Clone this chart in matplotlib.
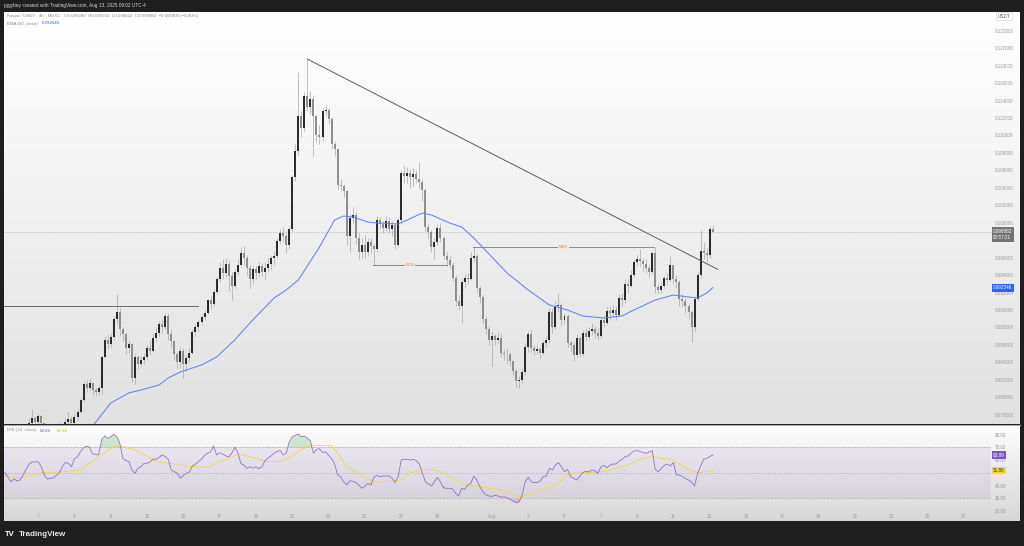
"""Kaspa / USDT 4h chart with EMA 50 and RSI 14, TradingView light style."""

import numpy as np
import pandas as pd
import matplotlib
matplotlib.use("Agg")
import matplotlib.pyplot as plt
from matplotlib import transforms
from matplotlib.colors import LinearSegmentedColormap
from matplotlib.lines import Line2D
from matplotlib.ticker import FormatStrFormatter

# ---- data ---------------------------------------------------------------
START = "2025-07-05 04:00"          # first 4h candle
FIRST_OPEN = 0.0765

closes = [
    0.0764, 0.0761, 0.0759, 0.0762, 0.0766, 0.0763, 0.0760, 0.0765, 0.0771, 0.0776,
    0.0772, 0.0778, 0.0770, 0.0765, 0.0760, 0.0757, 0.0761, 0.0764, 0.0768, 0.0766,
    0.0772, 0.0775, 0.0771, 0.0777, 0.0783, 0.0797, 0.0815, 0.0811, 0.0816, 0.0808,
    0.0806, 0.0810, 0.0846, 0.0866, 0.0861, 0.0869, 0.0890, 0.0898, 0.0878, 0.0872,
    0.0856, 0.0861, 0.0822, 0.0846, 0.0838, 0.0843, 0.0846, 0.0856, 0.0853, 0.0868,
    0.0874, 0.0884, 0.0880, 0.0893, 0.0873, 0.0864, 0.0849, 0.0840, 0.0853, 0.0838,
    0.0845, 0.0851, 0.0875, 0.0880, 0.0886, 0.0892, 0.0897, 0.0911, 0.0907, 0.0921,
    0.0935, 0.0948, 0.0942, 0.0953, 0.0939, 0.0928, 0.0944, 0.0952, 0.0965, 0.0960,
    0.0948, 0.0936, 0.0947, 0.0942, 0.0950, 0.0944, 0.0948, 0.0953, 0.0959, 0.0962,
    0.0979, 0.0988, 0.0985, 0.0975, 0.0993, 0.1052, 0.1082, 0.1122, 0.1109, 0.1145,
    0.1133, 0.1142, 0.1122, 0.1100, 0.1098, 0.1128, 0.1129, 0.1119, 0.1090, 0.1084,
    0.1043, 0.1042, 0.1036, 0.0985, 0.1005, 0.1009, 0.0982, 0.0966, 0.0975, 0.0966,
    0.0978, 0.0973, 0.0970, 0.1003, 0.0998, 0.0994, 0.1002, 0.0993, 0.0997, 0.0975,
    0.1003, 0.1057, 0.1054, 0.1057, 0.1052, 0.1056, 0.1050, 0.1047, 0.1037, 0.0995,
    0.0989, 0.0972, 0.0978, 0.0994, 0.0983, 0.0962, 0.0957, 0.0952, 0.0937, 0.0910,
    0.0905, 0.0932, 0.0937, 0.0935, 0.0960, 0.0962, 0.0925, 0.0915, 0.0890, 0.0878,
    0.0865, 0.0870, 0.0866, 0.0868, 0.0851, 0.0849, 0.0850, 0.0841, 0.0830, 0.0818,
    0.0820, 0.0829, 0.0858, 0.0873, 0.0856, 0.0853, 0.0855, 0.0851, 0.0862, 0.0866,
    0.0898, 0.0880, 0.0905, 0.0906, 0.0888, 0.0893, 0.0862, 0.0860, 0.0848, 0.0868,
    0.0850, 0.0874, 0.0869, 0.0876, 0.0878, 0.0874, 0.0870, 0.0888, 0.0885, 0.0899,
    0.0896, 0.0900, 0.0894, 0.0914, 0.0911, 0.0930, 0.0927, 0.0940, 0.0955, 0.0958,
    0.0956, 0.0953, 0.0948, 0.0944, 0.0965, 0.0926, 0.0923, 0.0928, 0.0937, 0.0934,
    0.0951, 0.0935, 0.0932, 0.0912, 0.0910, 0.0905, 0.0898, 0.0880, 0.0913, 0.0940,
    0.0968, 0.0965, 0.0963, 0.09928, 0.098882,
]

highs = [
    0.0767, 0.0765, 0.0763, 0.0765, 0.0768, 0.0768, 0.0765, 0.0767, 0.0776, 0.0787,
    0.0779, 0.0782, 0.0780, 0.0771, 0.0766, 0.0762, 0.0764, 0.0767, 0.0772, 0.0771,
    0.0776, 0.0783, 0.0778, 0.0781, 0.0786, 0.0799, 0.0818, 0.0820, 0.0822, 0.0817,
    0.0811, 0.0813, 0.0848, 0.0870, 0.0872, 0.0874, 0.0893, 0.0918, 0.0902, 0.0881,
    0.0874, 0.0866, 0.0862, 0.0850, 0.0848, 0.0847, 0.0851, 0.0860, 0.0866, 0.0872,
    0.0880, 0.0887, 0.0890, 0.0896, 0.0897, 0.0878, 0.0866, 0.0852, 0.0857, 0.0856,
    0.0848, 0.0856, 0.0878, 0.0884, 0.0889, 0.0895, 0.0900, 0.0913, 0.0916, 0.0924,
    0.0938, 0.0955, 0.0958, 0.0960, 0.0957, 0.0943, 0.0947, 0.0958, 0.0972, 0.0973,
    0.0963, 0.0951, 0.0950, 0.0952, 0.0956, 0.0954, 0.0955, 0.0960, 0.0963, 0.0967,
    0.0983, 0.0993, 0.0995, 0.0990, 0.0996, 0.1055, 0.1090, 0.1173, 0.1128, 0.1150,
    0.1188, 0.1151, 0.1146, 0.1124, 0.1112, 0.1132, 0.1135, 0.1131, 0.1121, 0.1094,
    0.1085, 0.1050, 0.1044, 0.1038, 0.1010, 0.1018, 0.1012, 0.0988, 0.0982, 0.0986,
    0.0983, 0.0982, 0.0976, 0.1008, 0.1006, 0.1002, 0.1008, 0.1006, 0.1002, 0.1000,
    0.1006, 0.1060, 0.1066, 0.1064, 0.1062, 0.1063, 0.1060, 0.1069, 0.1050, 0.1040,
    0.1000, 0.0992, 0.0982, 0.0998, 0.1000, 0.0985, 0.0966, 0.0962, 0.0955, 0.0940,
    0.0917, 0.0935, 0.0941, 0.0942, 0.0966, 0.0972, 0.0964, 0.0928, 0.0917, 0.0893,
    0.0882, 0.0876, 0.0873, 0.0875, 0.0872, 0.0855, 0.0856, 0.0852, 0.0843, 0.0832,
    0.0824, 0.0832, 0.0862, 0.0876, 0.0877, 0.0860, 0.0860, 0.0858, 0.0865, 0.0870,
    0.0902, 0.0902, 0.0910, 0.0919, 0.0908, 0.0897, 0.0895, 0.0866, 0.0863, 0.0872,
    0.0870, 0.0877, 0.0879, 0.0881, 0.0885, 0.0882, 0.0879, 0.0891, 0.0894, 0.0903,
    0.0905, 0.0906, 0.0904, 0.0918, 0.0920, 0.0935, 0.0935, 0.0946, 0.0958, 0.0963,
    0.0970, 0.0960, 0.0958, 0.0952, 0.0968, 0.0972, 0.0930, 0.0932, 0.0940, 0.0942,
    0.0962, 0.0952, 0.0940, 0.0934, 0.0918, 0.0914, 0.0908, 0.0900, 0.0916, 0.0944,
    0.0992, 0.0978, 0.0972, 0.0996, 0.099702,
]

lows = [
    0.0758, 0.0757, 0.0755, 0.0757, 0.0760, 0.0760, 0.0757, 0.0758, 0.0762, 0.0768,
    0.0766, 0.0770, 0.0764, 0.0762, 0.0756, 0.0753, 0.0755, 0.0759, 0.0760, 0.0760,
    0.0764, 0.0768, 0.0766, 0.0768, 0.0774, 0.0782, 0.0795, 0.0806, 0.0808, 0.0803,
    0.0801, 0.0802, 0.0804, 0.0845, 0.0855, 0.0857, 0.0866, 0.0884, 0.0870, 0.0864,
    0.0850, 0.0851, 0.0817, 0.0815, 0.0832, 0.0835, 0.0838, 0.0843, 0.0848, 0.0852,
    0.0864, 0.0870, 0.0874, 0.0878, 0.0866, 0.0858, 0.0843, 0.0833, 0.0834, 0.0822,
    0.0830, 0.0840, 0.0849, 0.0870, 0.0876, 0.0883, 0.0889, 0.0895, 0.0901, 0.0905,
    0.0918, 0.0932, 0.0936, 0.0938, 0.0922, 0.0911, 0.0925, 0.0940, 0.0950, 0.0952,
    0.0940, 0.0925, 0.0930, 0.0935, 0.0938, 0.0939, 0.0935, 0.0944, 0.0946, 0.0952,
    0.0958, 0.0976, 0.0978, 0.0965, 0.0970, 0.0990, 0.1048, 0.1078, 0.1098, 0.1105,
    0.1128, 0.1125, 0.1076, 0.1092, 0.1090, 0.1094, 0.1122, 0.1113, 0.1085, 0.1076,
    0.1038, 0.1036, 0.1030, 0.0975, 0.0966, 0.1000, 0.0976, 0.0958, 0.0960, 0.0960,
    0.0962, 0.0965, 0.0951, 0.0966, 0.0993, 0.0988, 0.0990, 0.0988, 0.0985, 0.0970,
    0.0972, 0.0998, 0.1045, 0.1046, 0.1040, 0.1042, 0.1045, 0.1040, 0.1025, 0.0990,
    0.0982, 0.0966, 0.0958, 0.0974, 0.0978, 0.0958, 0.0950, 0.0948, 0.0933, 0.0905,
    0.0900, 0.0885, 0.0925, 0.0930, 0.0934, 0.0955, 0.0920, 0.0908, 0.0885, 0.0872,
    0.0860, 0.0835, 0.0860, 0.0862, 0.0846, 0.0843, 0.0838, 0.0836, 0.0825, 0.0812,
    0.0810, 0.0816, 0.0826, 0.0852, 0.0852, 0.0848, 0.0849, 0.0845, 0.0848, 0.0858,
    0.0862, 0.0874, 0.0878, 0.0898, 0.0882, 0.0884, 0.0857, 0.0852, 0.0842, 0.0845,
    0.0846, 0.0847, 0.0864, 0.0866, 0.0871, 0.0868, 0.0865, 0.0868, 0.0880, 0.0883,
    0.0889, 0.0892, 0.0889, 0.0893, 0.0904, 0.0908, 0.0920, 0.0926, 0.0938, 0.0950,
    0.0950, 0.0945, 0.0942, 0.0938, 0.0942, 0.0920, 0.0918, 0.0919, 0.0925, 0.0929,
    0.0932, 0.0930, 0.0925, 0.0905, 0.0903, 0.0896, 0.0890, 0.0863, 0.0876, 0.0910,
    0.0937, 0.0958, 0.0955, 0.0960, 0.098822,
]

# EMA(50) read at selected candles
ema_idx = [28, 35, 41, 45, 51, 54, 58, 65, 70, 76, 81, 89, 93, 97, 104, 109, 112,
           115, 120, 123, 130, 133, 138, 141, 147, 151, 155, 161, 166, 173, 180,
           186, 191, 198, 204, 208, 215, 221, 226, 229, 232, 234]
ema_val = [0.07624, 0.07934, 0.08049, 0.08083, 0.08140, 0.08220, 0.08289,
           0.08369, 0.08461, 0.08656, 0.08851, 0.09137, 0.09229, 0.09343,
           0.09721, 0.10031, 0.10077, 0.10065, 0.10008, 0.09997, 0.09985,
           0.10031, 0.10111, 0.10088, 0.09997, 0.09951, 0.09825, 0.09607,
           0.09424, 0.09229, 0.09057, 0.09000, 0.08931, 0.08908, 0.08931,
           0.09000, 0.09114, 0.09171, 0.09149, 0.09137, 0.09194, 0.092546]

# RSI(14), one value per candle
rsi = [
    50.1, 46.7, 43.0, 45.4, 43.6, 44.4, 48.3, 52.7, 56.9, 58.5,
    58.5, 58.7, 54.8, 48.3, 45.1, 45.7, 45.9, 48.0, 50.1, 54.8,
    58.2, 57.4, 54.8, 61.3, 62.6, 66.6, 69.7, 71.0, 70.0, 64.5,
    64.7, 64.0, 76.2, 78.9, 77.0, 78.3, 80.2, 78.3, 73.1, 61.3,
    59.5, 59.0, 52.2, 49.6, 53.5, 54.8, 57.4, 57.4, 58.5, 60.8,
    60.6, 62.1, 64.0, 62.7, 60.6, 52.2, 50.9, 49.6, 45.7, 48.0,
    49.6, 50.6, 55.3, 56.9, 59.0, 60.6, 63.7, 65.3, 66.3, 71.0,
    64.0, 65.8, 64.7, 63.2, 62.6, 65.3, 70.0, 65.8, 57.4, 56.1,
    53.5, 54.8, 53.5, 54.8, 53.2, 54.8, 59.5, 61.6, 63.2, 65.3,
    66.8, 67.4, 64.0, 65.3, 74.4, 78.3, 79.4, 80.4, 78.3, 78.9,
    77.0, 75.2, 65.3, 68.4, 68.9, 65.8, 66.6, 63.7, 61.3, 56.9,
    48.3, 47.0, 43.0, 40.4, 43.8, 43.3, 42.3, 40.4, 37.8, 39.6,
    41.7, 40.4, 46.4, 48.0, 47.0, 47.5, 47.5, 47.5, 45.7, 42.3,
    47.0, 60.0, 60.6, 60.6, 60.0, 60.6, 59.5, 56.9, 49.6, 43.0,
    41.2, 39.6, 43.0, 46.4, 42.8, 38.3, 37.8, 37.8, 37.3, 33.9,
    31.8, 37.8, 37.0, 40.4, 41.7, 47.5, 44.4, 39.1, 35.2, 32.8,
    31.8, 31.5, 32.3, 31.8, 30.8, 31.3, 30.3, 29.2, 27.9, 26.6,
    27.4, 32.6, 43.0, 46.4, 43.0, 42.3, 42.3, 43.8, 47.0, 47.5,
    53.5, 52.2, 56.1, 57.9, 54.8, 50.9, 52.7, 47.0, 45.7, 44.4,
    47.0, 50.1, 51.2, 50.6, 52.2, 51.7, 49.6, 54.3, 55.9, 54.0,
    55.9, 56.9, 56.9, 59.0, 60.6, 62.7, 63.2, 65.3, 67.1, 67.4,
    66.8, 65.8, 65.3, 66.3, 67.4, 52.7, 50.9, 53.5, 55.9, 56.9,
    55.3, 57.9, 48.3, 48.3, 47.0, 45.4, 44.4, 42.8, 39.6, 49.6,
    55.3, 60.6, 61.3, 62.7, 63.89,
]

# RSI smoothing line, read at selected candles
rsi_ma_idx = [0, 3, 6, 10, 13, 16, 20, 23, 25, 28, 32, 35, 37, 39, 43, 46, 49,
              53, 56, 60, 65, 68, 70, 74, 77, 80, 84, 87, 91, 95, 98, 101, 104,
              108, 110, 113, 117, 120, 122, 125, 129, 131, 134, 138, 141, 144,
              147, 151, 153, 156, 160, 163, 166, 168, 171, 173, 176, 179, 183,
              186, 189, 193, 197, 200, 204, 207, 210, 214, 217, 220, 223, 227,
              229, 231, 234]
rsi_ma_val = [48.3, 46.4, 46.4, 49.1, 50.4, 50.4, 50.9, 51.7, 52.2, 57.4, 64.0,
              69.2, 71.5, 70.5, 67.9, 64.0, 60.0, 57.9, 56.9, 55.3, 54.3, 54.8,
              57.9, 61.3, 64.5, 63.2, 60.6, 58.7, 58.7, 63.2, 68.4, 71.5, 71.5,
              71.5, 65.3, 54.8, 49.6, 44.9, 42.8, 42.8, 43.6, 44.4, 49.6, 52.7,
              52.7, 50.9, 47.0, 41.7, 39.6, 39.6, 37.8, 37.0, 35.2, 32.6, 30.8,
              33.4, 35.2, 37.8, 41.7, 48.3, 49.6, 50.1, 50.9, 52.2, 54.8, 57.4,
              60.6, 63.2, 61.3, 60.6, 56.9, 51.7, 50.1, 50.9, 51.88]

# drawings: (candle index, price)
trend_line = [(100, 0.11875), (235.6, 0.09466)]
left_level = [(-1, 0.09045), (63.9, 0.09045)]
bos_level = [(121.6, 0.09515), (146.1, 0.09515)]
mss_level = [(154.8, 0.09718), (214.6, 0.09718)]

# price-scale labels left visible (others sit under the value tags)
price_ticks = [0.078, 0.080, 0.082, 0.084, 0.086, 0.088, 0.090, 0.092, 0.094,
               0.096, 0.100, 0.102, 0.104, 0.106, 0.108, 0.110, 0.112, 0.114,
               0.116, 0.118, 0.120, 0.122]
rsi_ticks = [20, 30, 40, 60, 70, 80]

jul_days = [7, 9, 11, 13, 15, 17, 19, 21, 23, 25, 27, 29]
aug_days = [1, 3, 5, 7, 9, 11, 13, 15, 17, 19, 21, 23, 25, 27]

# ---- style ---------------------------------------------------------------
W, H = 1024, 546
UP, DOWN, WICK = "#2b2b2b", "#8e8e8e", "#a9a9a9"
AXIS_TXT = "#9c9c9c"
EMA_C, RSI_C, RSI_MA_C = "#5b7ef5", "#7e57c2", "#f5d73a"
FS = 3.3

plt.rcParams["font.family"] = ["Liberation Sans", "DejaVu Sans"]


def rect(x0, y0, x1, y1):
    """Pixel box (top-left origin) -> figure fraction rect."""
    return [x0 / W, 1 - y1 / H, (x1 - x0) / W, (y1 - y0) / H]


def gradient(fig, box, top, bottom):
    ax = fig.add_axes(rect(*box), zorder=0)
    cmap = LinearSegmentedColormap.from_list("bg", [top, bottom])
    ax.imshow(np.linspace(0, 1, 256)[:, None], cmap=cmap, aspect="auto",
              extent=[0, 1, 0, 1])
    ax.set_axis_off()


def price_tag(ax, y, text, fc, tc="white", dy=0, va="center"):
    trans = transforms.blended_transform_factory(ax.transAxes, ax.transData)
    ax.annotate(text, xy=(1, y), xycoords=trans, xytext=(1.6, dy),
                textcoords="offset points", ha="left", va=va, fontsize=FS,
                color=tc, linespacing=1.35, annotation_clip=False, zorder=10,
                bbox=dict(boxstyle="square,pad=0.3", fc=fc, ec="none"))


def plot_price(ax):
    c = np.array(closes)
    o = np.r_[FIRST_OPEN, c[:-1]]
    hi = np.maximum(np.array(highs), np.maximum(o, c))
    lo = np.minimum(np.array(lows), np.minimum(o, c))
    x = np.arange(len(c))
    up = c >= o

    ax.vlines(x, lo, hi, color=WICK, lw=0.5, zorder=2)
    body = np.maximum(np.abs(c - o), 0.00003)
    ax.bar(x, body, bottom=np.minimum(o, c), width=0.66,
           color=np.where(up, UP, DOWN), lw=0, zorder=3)

    ax.plot(ema_idx, ema_val, color=EMA_C, lw=0.7, zorder=4)
    ax.axhline(c[-1], color="#b3b3b3", lw=0.5, ls=(0, (1.5, 1.5)), zorder=1)

    for line, col in [(trend_line, "#5c5c5c"), (left_level, "#6a6a6a"),
                      (bos_level, "#8a8a8a"), (mss_level, "#8a8a8a")]:
        (x0, y0), (x1, y1) = line
        ax.plot([x0, x1], [y0, y1], color=col, lw=0.7, zorder=5)

    for line, lab in [(bos_level, "BOS"), (mss_level, "MSS")]:
        (x0, y0), (x1, _) = line
        ax.text((x0 + x1) / 2, y0, lab, ha="center", va="center", fontsize=3,
                color="#ef7a30", zorder=6,
                bbox=dict(boxstyle="square,pad=0.15", fc="#ececec", ec="none"))

    ax.set_ylim(0.076929, 0.124148)
    ax.yaxis.tick_right()
    ax.set_yticks(price_ticks)
    ax.yaxis.set_major_formatter(FormatStrFormatter("%.6f"))
    ax.tick_params(axis="y", length=0, pad=3, labelsize=FS, labelcolor=AXIS_TXT)
    ax.tick_params(axis="x", bottom=False, labelbottom=False)

    price_tag(ax, c[-1], "0.098882\n02:57:21", "#737373", dy=2.6, va="top")
    price_tag(ax, ema_val[-1], f"{ema_val[-1]:.6f}", "#2962ff")


def plot_rsi(ax):
    r = np.array(rsi)
    x = np.arange(len(r))
    ax.axhspan(30, 70, color=RSI_C, alpha=0.09, lw=0, zorder=1)
    for lvl, ls in [(70, (0, (2, 1.5))), (50, (0, (1, 1.5))), (30, (0, (2, 1.5)))]:
        ax.axhline(lvl, color="#a2a2a2", lw=0.5, ls=ls, zorder=2)
    ax.fill_between(x, r, 70, where=r > 70, interpolate=True,
                    color="#81c784", alpha=0.35, lw=0, zorder=2)
    ax.fill_between(x, r, 30, where=r < 30, interpolate=True,
                    color="#ef9a9a", alpha=0.45, lw=0, zorder=2)
    ax.plot(rsi_ma_idx, rsi_ma_val, color=RSI_MA_C, lw=0.6, zorder=3)
    ax.plot(x, r, color=RSI_C, lw=0.6, alpha=0.8, zorder=4)

    ax.set_ylim(19.25, 87.5)
    ax.yaxis.tick_right()
    ax.set_yticks(rsi_ticks)
    ax.yaxis.set_major_formatter(FormatStrFormatter("%.2f"))
    ax.tick_params(axis="y", length=0, pad=3, labelsize=FS, labelcolor=AXIS_TXT)

    start = pd.Timestamp(START)
    dates = [pd.Timestamp(2025, 7, d) for d in jul_days] + \
            [pd.Timestamp(2025, 8, d) for d in aug_days]
    ticks = [(d - start) / pd.Timedelta("4h") for d in dates]
    labels = [str(d.day) if d.day != 1 else "Aug" for d in dates]
    ax.set_xticks(ticks)
    ax.set_xticklabels(labels)
    ax.tick_params(axis="x", length=0, pad=1.6, labelsize=FS, labelcolor=AXIS_TXT)

    price_tag(ax, r[-1], f"{r[-1]:.2f}", RSI_C)
    price_tag(ax, rsi_ma_val[-1], f"{rsi_ma_val[-1]:.2f}", "#fdd835", tc="#333333")


def main():
    fig = plt.figure(figsize=(W / 100, H / 100), dpi=100, facecolor="#1e1e1e")

    gradient(fig, (4, 12, 1020, 424), "#ffffff", "#e1e1e1")
    gradient(fig, (4, 425, 1020, 512), "#fdfdfd", "#dadada")
    gradient(fig, (4, 512, 1020, 521), "#dadada", "#d6d6d6")
    fig.add_artist(Line2D([4 / W, 1020 / W], [1 - 424.5 / H] * 2,
                          color="#a9a9a9", lw=0.8, zorder=5))

    ax = fig.add_axes(rect(4, 12, 991, 424), zorder=2)
    ax_rsi = fig.add_axes(rect(4, 425, 991, 512), zorder=2, sharex=ax)
    for a in (ax, ax_rsi):
        a.set_facecolor("none")
        for s in a.spines.values():
            s.set_visible(False)

    plot_price(ax)
    plot_rsi(ax_rsi)
    ax.set_xlim(-0.3, 326.0)

    # legends and frame texts
    fig.text(3 / W, 1 - 6 / H, "jiggybey created with TradingView.com, Aug 13, 2025 09:02 UTC-4",
             color="#d8d8d8", fontsize=3.4, va="center")
    fig.text(7 / W, 1 - 16 / H,
             "Kaspa / USDT · 4h · MEXC   O0.099280  H0.099702  L0.098822  C0.098882  "
             "\u22120.000400 (\u22120.40%)", color="#8c8c8c", fontsize=3.2, va="center")
    fig.text(7 / W, 1 - 23.5 / H, "EMA (50, close)", color="#8c8c8c", fontsize=3.2, va="center")
    fig.text(42 / W, 1 - 23.5 / H, "0.092546", color="#2962ff", fontsize=3.2, va="center")
    fig.text(7 / W, 1 - 430.5 / H, "RSI (14, close)", color="#8c8c8c", fontsize=3.2, va="center")
    fig.text(40 / W, 1 - 430.5 / H, "63.89", color=RSI_C, fontsize=3.2, va="center")
    fig.text(57 / W, 1 - 430.5 / H, "51.88", color="#e0b800", fontsize=3.2, va="center")
    fig.text(1004 / W, 1 - 16 / H, "USDT", color="#555555", fontsize=3.3, ha="center",
             va="center", bbox=dict(boxstyle="square,pad=0.4", fc="white", ec="#d0d0d0", lw=0.4))

    fig.text(5 / W, 1 - 534.5 / H, "TV", color="white", fontsize=5.5, fontweight="heavy",
             va="center")
    fig.text(19 / W, 1 - 534.5 / H, "TradingView", color="#e8e8e8", fontsize=5.8,
             fontweight="bold", va="center")

    fig.savefig("out.png", dpi=100, facecolor=fig.get_facecolor())


if __name__ == "__main__":
    main()
